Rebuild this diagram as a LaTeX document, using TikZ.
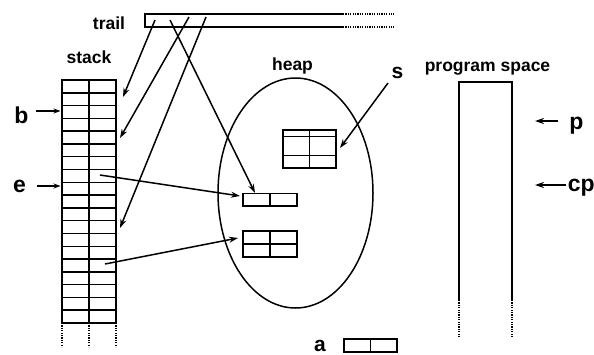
\documentclass[tikz,border=0pt]{standalone}
\usepackage{fontspec}
\setmainfont{Liberation Sans}
\usetikzlibrary{arrows.meta,shapes.geometric}
\begin{document}
\begin{tikzpicture}[x=1pt,y=-1pt,line width=1.5pt,
  title/.style={font=\bfseries\fontsize{17.5}{17.5}\selectfont,inner sep=0pt,anchor=base},
  letter/.style={font=\bfseries\fontsize{23}{23}\selectfont,inner sep=0pt,anchor=base},
  ptr/.style={-{Stealth[length=9pt,width=6pt]}},
  smallptr/.style={-{Stealth[length=7pt,width=5pt]},shorten >=1.5pt},
  box/.style={draw,rectangle,inner sep=0pt,outer sep=0pt},
  dots/.style={line width=1.6pt,dash pattern=on 1.2pt off 1.2pt}
]
\useasboundingbox (0,0) rectangle (594,354);

% ---------------- stack: 2 columns, 19 rows, open at the bottom
\node[box,minimum width=54pt,minimum height=243pt] (stack) at (89,201.5) {};
\draw (stack.north) -- (stack.south);
\foreach \i in {1,...,18} \draw (62,80+\i*12.79) -- (116,80+\i*12.79);
\draw[dots] (stack.south west) -- ++(0,24);
\draw[dots] (stack.south) -- ++(0,24);
\draw[dots] (stack.south east) -- ++(0,24);
\node[title] (stacklbl) at (89,63) {stack};

% ---------------- trail: open-ended strip
\draw (343,14) -- (145,14) -- (145,27) -- (343,27);
\draw[dots] (343,14) -- (394,14);
\draw[dots] (343,27) -- (394,27);
\node[title] (traillbl) at (109,29) {trail};
\coordinate (t1) at (155,20);
\coordinate (t4) at (170,20);
\coordinate (t2) at (189,17);
\coordinate (t3) at (206,17);

% ---------------- heap
\node[draw,ellipse,minimum width=155pt,minimum height=230pt,inner sep=0pt] (heap) at (295.5,193) {};
\node[title] (heaplbl) at (292.5,70) {heap};

\node[box,minimum width=53pt,minimum height=38pt] (hs) at (309.5,149) {};
\draw (hs.north) -- (hs.south);
\draw (283,136.7) -- (336,136.7);
\draw (283,155.3) -- (336,155.3);

\node[box,minimum width=54pt,minimum height=12.5pt] (h1) at (270,199.5) {};
\draw (h1.north) -- (h1.south);

\node[box,minimum width=54pt,minimum height=26pt] (h2) at (270,244) {};
\draw (h2.north) -- (h2.south);
\draw (h2.west) -- (h2.east);

% ---------------- program space
\draw (459,300) -- (459,82) -- (512,82) -- (512,300);
\draw[dots] (459,300) -- (459,337);
\draw[dots] (512,300) -- (512,337);
\node[title] (pslbl) at (487.5,71.5) {program space};

% ---------------- register a
\node[box,minimum width=53pt,minimum height=13pt] (abox) at (370.5,345.5) {};
\draw (abox.north) -- (abox.south);
\node[letter,font=\bfseries\fontsize{21}{21}\selectfont] (alb) at (320,351) {a};

% ---------------- register labels and pointers
\node[letter] (blb) at (21.5,123) {b};
\coordinate (bt) at (36,111);
\draw[smallptr] (bt) -- (stack.west |- bt);

\node[letter] (elb) at (19.5,192) {e};
\coordinate (et) at (37,186);
\draw[smallptr] (et) -- (stack.west |- et);

\node[letter] (plb) at (576.5,129) {p};
\coordinate (pt) at (558,121);
\coordinate (pe) at (535,121);
\draw[ptr] (pt) -- (pe);

\node[letter,anchor=base west] (cplb) at (567,191) {cp};
\coordinate (cpt) at (566,185);
\coordinate (cpe) at (535,185);
\draw[ptr] (cpt) -- (cpe);

\node[letter,font=\bfseries\fontsize{21}{21}\selectfont] (slb) at (397.5,78) {s};
\coordinate (st) at (388,83);
\coordinate (se) at (340,148);
\draw[ptr] (st) -- (se);

% ---------------- trail entries point into the stack and the heap
\coordinate (k1) at (123,97);
\coordinate (k2) at (120,138);
\coordinate (k3) at (120,228);
\coordinate (k4) at (255,193);
\draw[ptr] (t1) -- (k1);
\draw[ptr] (t2) -- (k2);
\draw[ptr] (t3) -- (k3);
\draw[ptr] (t4) -- (k4);

% ---------------- stack cells referencing heap structures
\coordinate (c1) at (100,175);
\coordinate (c2) at (105,264);
\draw[ptr] (c1) -- (240,196);
\draw[ptr] (c2) -- (238,238);
\end{tikzpicture}
\end{document}
